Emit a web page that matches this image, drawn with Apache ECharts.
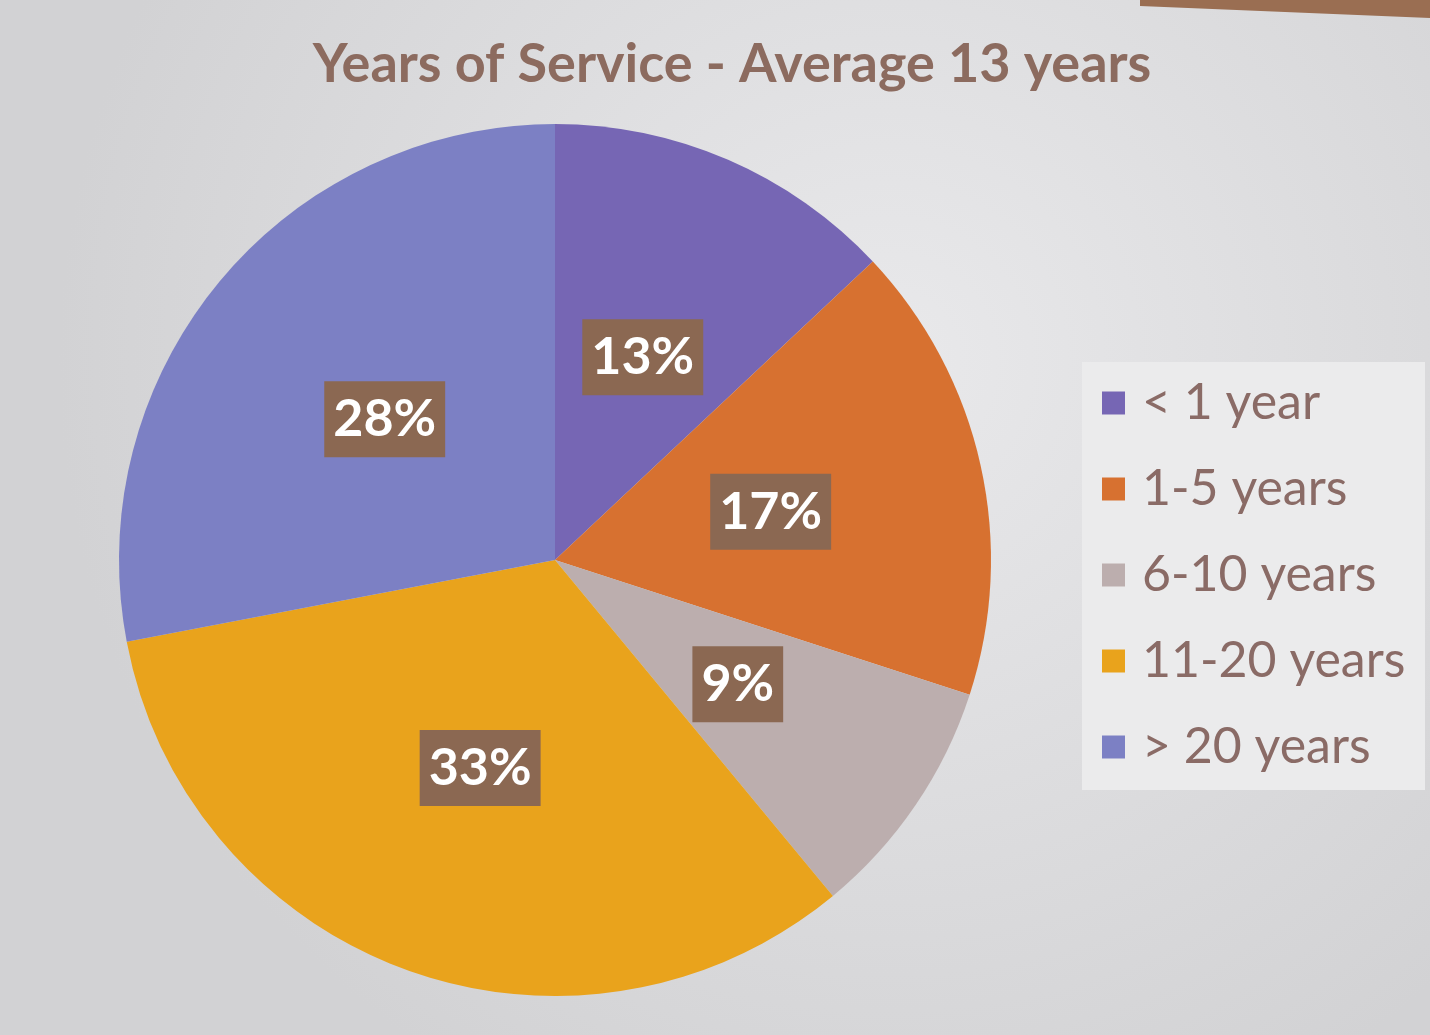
<!DOCTYPE html>
<html lang="en">
<head>
    <meta charset="UTF-8"/>
    <title>Years of Service</title>
    <script src="https://cdn.jsdelivr.net/npm/echarts@6/dist/echarts.min.js"></script>
    <style>
        html, body { margin: 0; padding: 0; }
        #main { width: 1430px; height: 1035px; }
    </style>
</head>
<body>
<div id="main"></div>

<script type="text/javascript">
    // data
    var categories = ['< 1 year', '1-5 years', '6-10 years', '11-20 years', '> 20 years'];
    var shares = [13, 17, 9, 33, 28];
    var colors = ['#7666b4', '#d77130', '#bcaeae', '#e9a31c', '#7c80c4'];

    var myChart = echarts.init(document.getElementById('main'));

    var pieData = categories.map(function (name, i) {
        return { name: name, value: shares[i], itemStyle: { color: colors[i] } };
    });

    var option = {
        backgroundColor: {
            type: 'radial', x: 0.62, y: 0.35, r: 0.8,
            colorStops: [
                { offset: 0, color: '#e9e9eb' },
                { offset: 1, color: '#d2d2d4' }
            ]
        },
        textStyle: { fontFamily: 'Lato, "Open Sans", sans-serif' },
        title: {
            text: 'Years of Service - Average 13 years',
            left: 727,
            top: 33,
            textAlign: 'center',
            textStyle: {
                fontSize: 54,
                fontWeight: 'bold',
                color: '#8c6b5f',
                fontFamily: 'Lato, "Open Sans", sans-serif'
            }
        },
        graphic: [
            {
                type: 'polygon',
                shape: { points: [[1140, 0], [1430, 0], [1430, 18], [1140, 6]] },
                style: { fill: '#9a6e52' },
                silent: true
            },
            {
                type: 'rect',
                shape: { x: 1082, y: 362, width: 343, height: 428 },
                style: { fill: '#ebebec' },
                silent: true
            }
        ],
        legend: {
            orient: 'vertical',
            left: 1097,
            top: 373,
            itemWidth: 23,
            itemHeight: 23,
            itemGap: 36,
            icon: 'rect',
            data: categories,
            textStyle: {
                fontSize: 50,
                color: '#8a6b66',
                fontFamily: 'Lato, "Open Sans", sans-serif',
                padding: [0, 0, 0, 12]
            }
        },
        series: [
            {
                name: 'Years of Service',
                type: 'pie',
                center: [555, 560],
                radius: 436,
                startAngle: 90,
                clockwise: true,
                avoidLabelOverlap: false,
                data: pieData,
                itemStyle: { borderWidth: 0 },
                label: {
                    show: true,
                    position: 'inside',
                    formatter: function (p) { return p.value + '%'; },
                    color: '#ffffff',
                    fontSize: 52,
                    fontWeight: 'bold',
                    fontFamily: 'Lato, "Open Sans", sans-serif',
                    backgroundColor: '#8b6852',
                    padding: [14, 9, 10, 9]
                },
                labelLine: { show: false },
                emphasis: { disabled: true }
            }
        ]
    };

    myChart.setOption(option);
</script>
</body>
</html>
